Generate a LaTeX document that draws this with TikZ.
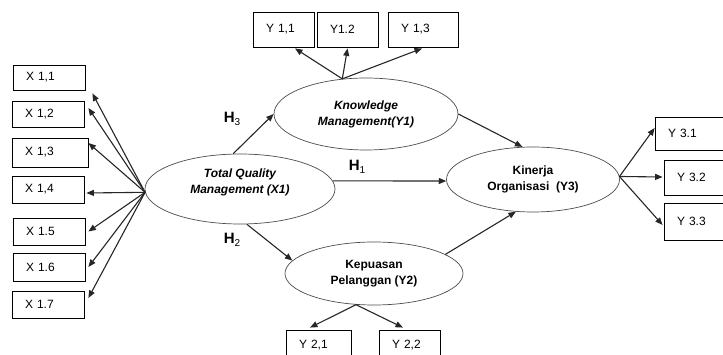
\documentclass[tikz,border=0pt]{standalone}
\usepackage{fontspec}
\setmainfont{Liberation Sans}
\usetikzlibrary{arrows.meta,shapes.geometric}
\begin{document}
\begin{tikzpicture}[x=1pt,y=-1pt,
  ibox/.style={draw=black, line width=0.8pt, align=left, inner xsep=13pt,
    inner ysep=0pt, font=\fontsize{12}{14}\selectfont},
  latent/.style={ellipse, draw=black!70, line width=0.7pt, inner sep=0pt,
    align=center, font=\fontsize{12}{16}\selectfont\bfseries},
  arr/.style={line width=1.1pt, draw=black!85, -{Triangle[length=7.5pt,width=6pt]}},
  hlab/.style={font=\fontsize{15}{15}\selectfont\bfseries, inner sep=0pt}
]
\useasboundingbox (0,0) rectangle (723,355);
\clip (0,0) rectangle (723,355);

% latent constructs
\node[latent, minimum width=190pt, minimum height=70pt] (tqm) at (240,189)
  {\itshape Total Quality\\\itshape Management (X1)\\[-6pt]\strut};
\node[latent, minimum width=184pt, minimum height=72pt] (km) at (366,114)
  {\itshape Knowledge\\\itshape Management(Y1)};
\node[latent, minimum width=178pt, minimum height=63pt] (kp) at (374,273.5)
  {Kepuasan\\Pelanggan (Y2)};
\node[latent, minimum width=173pt, minimum height=65pt] (ko) at (533,179.5)
  {Kinerja\\Organisasi \ (Y3)};

% indicators of X1
\node[ibox, text width=46pt, minimum height=25pt] (x11) at (49,77.5) {X 1,1};
\node[ibox, text width=46pt, minimum height=26pt] (x12) at (48,114) {X 1,2};
\node[ibox, text width=50pt, minimum height=29pt] (x13) at (50,152.5) {X 1,3};
\node[ibox, text width=46pt, minimum height=27pt] (x14) at (48,189.5) {X 1,4};
\node[ibox, text width=46pt, minimum height=27pt] (x15) at (49,231.5) {X 1.5};
\node[ibox, text width=46pt, minimum height=28pt] (x16) at (49,267) {X 1.6};
\node[ibox, text width=46pt, minimum height=27pt] (x17) at (48,304.5) {X 1.7};

% indicators of Y1
\node[ibox, text width=35pt, minimum height=35pt] (y11) at (283.5,29.5) {Y 1,1};
\node[ibox, text width=35pt, minimum height=35pt] (y12) at (347.5,29.5) {Y1.2};
\node[ibox, text width=44pt, minimum height=35pt] (y13) at (423,29.5) {Y 1,3};

% indicators of Y2
\node[ibox, text width=39pt, minimum height=30pt] (y21) at (318.5,345) {Y 2,1};
\node[ibox, text width=35pt, minimum height=30pt] (y22) at (409.5,345) {Y 2,2};

% indicators of Y3
\node[ibox, text width=54pt, minimum height=33pt] (y31) at (695,133.5) {Y 3.1};
\node[ibox, text width=45pt, minimum height=35pt] (y32) at (699.5,177.5) {Y 3.2};
\node[ibox, text width=45pt, minimum height=37pt] (y33) at (699.5,221.5) {Y 3.3};

% fan origins on the construct borders
\coordinate (xsrc) at (tqm.182);
\coordinate (ksrc) at (km.124);
\coordinate (psrc) at (kp.240);
\coordinate (osrc) at (ko.2);

% X1 -> indicators
\draw[arr] (xsrc) -- ([xshift=7pt,yshift=-3pt]x11.south east);
\draw[arr] (xsrc) -- ([xshift=4pt,yshift=6pt]x12.east);
\draw[arr] (xsrc) -- ([yshift=9.5pt]x13.east);
\draw[arr] (xsrc) -- ([xshift=2pt,yshift=-3.5pt]x14.east);
\draw[arr] (xsrc) -- ([xshift=3pt]x15.east);
\draw[arr] (xsrc) -- ([xshift=3pt]x16.east);
\draw[arr] (xsrc) -- ([xshift=4pt,yshift=6.5pt]x17.east);

% Y1 -> indicators
\draw[arr] (ksrc) -- ([xshift=11.5pt,yshift=-1pt]y11.south);
\draw[arr] (ksrc) -- ([yshift=-1pt]y12.south);
\draw[arr] (ksrc) -- ([xshift=-1pt,yshift=-1pt]y13.south);

% Y2 -> indicators
\draw[arr] (psrc) -- ([xshift=-8.5pt,yshift=2pt]y21.north);
\draw[arr] (psrc) -- ([xshift=-6.5pt,yshift=2pt]y22.north);

% Y3 -> indicators
\draw[arr] (osrc) -- ([yshift=5.5pt]y31.west);
\draw[arr] (osrc) -- ([xshift=-1pt,yshift=0.5pt]y32.west);
\draw[arr] (osrc) -- ([xshift=-1pt,yshift=-3.5pt]y33.west);

% structural paths
\draw[arr] (tqm.101) -- (km.west);
\draw[arr] (tqm.5) -- (ko.181);
\draw[arr] (tqm.-79) -- (kp.171);
\draw[arr] (km.east) -- (ko.108);
\draw[arr] (kp.15) -- (ko.-118);

% hypothesis labels
\node[hlab] (h3) at (232,119) {H\raisebox{-2.5pt}{\fontsize{10}{10}\selectfont\mdseries 3}};
\node[hlab] (h1) at (357,167) {H\raisebox{-2.5pt}{\fontsize{10}{10}\selectfont\mdseries 1}};
\node[hlab] (h2) at (232,240) {H\raisebox{-2.5pt}{\fontsize{10}{10}\selectfont\mdseries 2}};
\end{tikzpicture}
\end{document}
